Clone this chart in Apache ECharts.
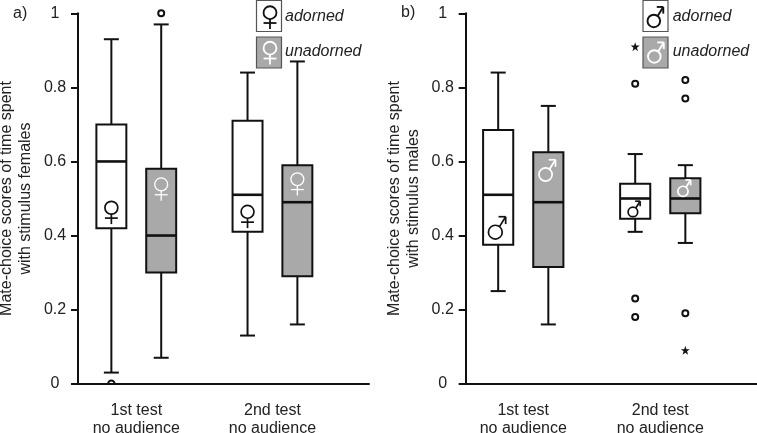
<!DOCTYPE html>
<html><head><meta charset="utf-8">
<style>html,body{margin:0;padding:0;background:#fff}#c{width:757px;height:433px}</style>
<script src="https://cdn.jsdelivr.net/npm/echarts@6/dist/echarts.min.js"></script>
</head><body><div id="c"></div>
<script>
// ---- data ----
const categories = ['1st test\nno audience', '2nd test\nno audience'];
const yTicks = [0, 0.2, 0.4, 0.6, 0.8, 1];
// [low whisker, Q1, median, Q3, high whisker], one row per test
const femalesAdorned   = [[0.03, 0.42, 0.60, 0.70, 0.93], [0.13, 0.41, 0.51, 0.71, 0.84]];
const femalesUnadorned = [[0.07, 0.30, 0.40, 0.58, 0.97], [0.16, 0.29, 0.49, 0.59, 0.87]];
const malesAdorned     = [[0.25, 0.375, 0.51, 0.685, 0.84], [0.41, 0.445, 0.50, 0.54, 0.62]];
const malesUnadorned   = [[0.16, 0.315, 0.49, 0.625, 0.75], [0.38, 0.46, 0.50, 0.555, 0.59]];
// outliers: per test
const femalesAdornedOutliersOnAxis = [[0], []];
const femalesUnadornedOutliers = [[1.0], []];
const malesAdornedOutliers = [[], [0.81, 0.23, 0.18]];
const malesUnadornedOutliers = [[], [0.82, 0.77, 0.19]];
const malesAdornedExtreme = [[], [0.91]];
const malesUnadornedExtreme = [[], [0.09]];
// height at which the sex symbol sits in each box
const femalesAdornedSymbol = [0.462, 0.451];
const femalesUnadornedSymbol = [0.525, 0.539];
const malesAdornedSymbol = [0.421, 0.472];
const malesUnadornedSymbol = [0.576, 0.528];

const INK = '#111', GREY = '#a9a9a9', TEXT = '#222';
const FONT = '"Liberation Sans", Arial, sans-serif';
const OFFSET = 0.183, BOX_W = 0.22, CAP_W = 0.11;

function sexMark(kind, cx, cy, s, color, lw) {
  const stroke = { stroke: color, lineWidth: lw, fill: null };
  const line = (x1, y1, x2, y2) => ({ type: 'line',
    shape: { x1: cx + x1 * s, y1: cy + y1 * s, x2: cx + x2 * s, y2: cy + y2 * s }, style: stroke });
  const ring = (x, y, r) => ({ type: 'circle',
    shape: { cx: cx + x * s, cy: cy + y * s, r: r * s }, style: { ...stroke, fill: 'transparent' } });
  if (kind === 'female') {
    return { type: 'group', children: [
      ring(0, -0.21, 0.28), line(0, 0.07, 0, 0.5), line(-0.28, 0.24, 0.28, 0.24)
    ]};
  }
  return { type: 'group', children: [
    ring(-0.08, 0.19, 0.3), line(0.1, -0.05, 0.37, -0.48),
    line(0.06, -0.48, 0.37, -0.48), line(0.37, -0.48, 0.37, -0.16)
  ]};
}
function boxRows(rows, side) {
  return rows.map((r, i) => [i + side * OFFSET].concat(r));
}
function boxSeries(name, rows, side, fill, gridIndex) {
  return {
    name, type: 'custom', xAxisIndex: gridIndex, yAxisIndex: gridIndex, clip: false, z: 3,
    data: boxRows(rows, side),
    encode: { x: 0, y: [1, 2, 3, 4, 5] },
    renderItem(params, api) {
      const x = api.value(0);
      const px = v => api.coord([x, v]);
      const bw = api.size([BOX_W, 0])[0], cw = api.size([CAP_W, 0])[0];
      const [lo, q1, med, q3, hi] = [1, 2, 3, 4, 5].map(k => px(api.value(k)));
      const line = (x1, y1, x2, y2, w) => ({
        type: 'line', shape: { x1, y1, x2, y2 }, style: { stroke: INK, lineWidth: w }
      });
      return { type: 'group', children: [
        line(lo[0], lo[1], lo[0], q1[1], 2),
        line(hi[0], hi[1], hi[0], q3[1], 2),
        line(lo[0] - cw / 2, lo[1], lo[0] + cw / 2, lo[1], 2),
        line(hi[0] - cw / 2, hi[1], hi[0] + cw / 2, hi[1], 2),
        { type: 'rect', shape: { x: q3[0] - bw / 2, y: q3[1], width: bw, height: q1[1] - q3[1] },
          style: { fill, stroke: INK, lineWidth: 2 } },
        line(med[0] - bw / 2, med[1], med[0] + bw / 2, med[1], 2.6)
      ]};
    }
  };
}
function flat(outliers, side) {
  const out = [];
  outliers.forEach((vals, i) => vals.forEach(v => out.push([i + side * OFFSET, v])));
  return out;
}
function ringSeries(outliers, side, gridIndex) {
  return { type: 'scatter', xAxisIndex: gridIndex, yAxisIndex: gridIndex, clip: false, z: 4,
    symbol: 'circle', symbolSize: 6,
    itemStyle: { color: '#fff', borderColor: INK, borderWidth: 2, opacity: 1 },
    data: flat(outliers, side) };
}
// an outlier sitting on the axis: only its upper half shows above the line
function axisRingSeries(outliers, side, gridIndex) {
  return { type: 'custom', xAxisIndex: gridIndex, yAxisIndex: gridIndex, clip: false, z: 4,
    data: flat(outliers, side),
    encode: { x: 0, y: 1 },
    renderItem(params, api) {
      const p = api.coord([api.value(0), api.value(1)]);
      return { type: 'arc', shape: { cx: p[0], cy: p[1], r: 3.2, startAngle: Math.PI, endAngle: 2 * Math.PI },
        style: { stroke: INK, lineWidth: 2, fill: null } };
    }
  };
}
function starSeries(outliers, side, gridIndex) {
  return { type: 'scatter', xAxisIndex: gridIndex, yAxisIndex: gridIndex, clip: false, z: 4,
    symbol: 'path://M50 0 L62 36 L100 36 L69 58 L81 95 L50 72 L19 95 L31 58 L0 36 L38 36 Z', symbolSize: 9,
    itemStyle: { color: INK, opacity: 1 },
    data: flat(outliers, side) };
}
function markSeries(heights, side, kind, sizes, color, gridIndex, lw) {
  return { type: 'custom', xAxisIndex: gridIndex, yAxisIndex: gridIndex, clip: false, z: 5,
    data: heights.map((v, i) => [i + side * OFFSET, v, sizes[i]]),
    encode: { x: 0, y: 1 },
    renderItem(params, api) {
      const p = api.coord([api.value(0), api.value(1)]);
      return sexMark(kind, p[0] - (kind === 'male' ? 1 : 0), p[1], api.value(2), color, lw);
    }
  };
}
function xAxis(gridIndex, min, max) {
  return { type: 'value', gridIndex, min, max, splitLine: { show: false },
    axisLine: { onZero: false, lineStyle: { color: INK, width: 2 } },
    axisTick: { show: false },
    axisLabel: { customValues: [0, 1], formatter: v => categories[v], color: TEXT,
      fontFamily: FONT, fontSize: 16, lineHeight: 18, margin: 18, hideOverlap: false } };
}
function yAxis(gridIndex, name, gap) {
  return { type: 'value', gridIndex, min: 0, max: 1, interval: 0.2,
    splitLine: { show: false },
    axisLine: { show: true, onZero: false, lineStyle: { color: INK, width: 2 } },
    axisTick: { show: true, length: 7, lineStyle: { color: INK, width: 2 } },
    axisLabel: { formatter: v => yTicks.includes(+v.toFixed(1)) ? String(+v.toFixed(1)) : '',
      color: TEXT, fontFamily: FONT, fontSize: 16, margin: 23, align: 'center' },
    name, nameLocation: 'middle', nameRotate: 90, nameGap: gap,
    nameTextStyle: { color: TEXT, fontFamily: FONT, fontSize: 16, lineHeight: 19 } };
}
function legendBox(x, y, fill, kind, color, markDx, markDy, s) {
  return [
    { type: 'rect', shape: { x, y, width: 25, height: 31 },
      style: { fill, stroke: '#555', lineWidth: 1.2 } },
    sexMark(kind, x + 12.5 + markDx, y + 15.5 + markDy, s, color, kind === 'male' ? 1.9 : 1.8)
  ];
}
function caption(x, y, text, italic) {
  return { type: 'text', x, y, style: { text, fill: TEXT, align: 'left', verticalAlign: 'middle',
    font: (italic ? 'italic ' : '') + '16px ' + FONT } };
}

const chart = echarts.init(document.getElementById('c'));
chart.setOption({
  animation: false,
  backgroundColor: '#fff',
  grid: [
    { left: 78, top: 13.3, width: 291, height: 370.4, outerBoundsMode: 'none' },
    { left: 465.7, top: 13.3, width: 291.3, height: 370.4, outerBoundsMode: 'none' }
  ],
  xAxis: [xAxis(0, -0.428, 1.709), xAxis(1, -0.42, 1.706)],
  yAxis: [
    yAxis(0, 'Mate-choice scores of time spent\nwith stimulus females', 43),
    yAxis(1, 'Mate-choice scores of time spent\nwith stimulus males', 42.5)
  ],
  series: [
    boxSeries('adorned', femalesAdorned, -1, '#fff', 0),
    boxSeries('unadorned', femalesUnadorned, 1, GREY, 0),
    boxSeries('adorned', malesAdorned, -1, '#fff', 1),
    boxSeries('unadorned', malesUnadorned, 1, GREY, 1),
    axisRingSeries(femalesAdornedOutliersOnAxis, -1, 0),
    ringSeries(femalesUnadornedOutliers, 1, 0),
    ringSeries(malesAdornedOutliers, -1, 1),
    ringSeries(malesUnadornedOutliers, 1, 1),
    starSeries(malesAdornedExtreme, -1, 1),
    starSeries(malesUnadornedExtreme, 1, 1),
    markSeries(femalesAdornedSymbol, -1, 'female', [23, 23], INK, 0, 1.7),
    markSeries(femalesUnadornedSymbol, 1, 'female', [23, 23], '#fff', 0, 1.3),
    markSeries(malesAdornedSymbol, -1, 'male', [23, 16], INK, 1, 1.7),
    markSeries(malesUnadornedSymbol, 1, 'male', [22, 17], '#fff', 1, 1.7)
  ],
  graphic: [
    ...legendBox(256.5, 0.5, '#fff', 'female', INK, 1, 1.5, 23),
    ...legendBox(256.5, 37, GREY, 'female', '#fff', 1, 0.5, 23),
    ...legendBox(643, 0.5, '#fff', 'male', INK, 0, 1, 21),
    ...legendBox(643, 37, GREY, 'male', '#fff', 0.5, 0, 21),
    caption(285, 17, 'adorned', true),
    caption(285, 52, 'unadorned', true),
    caption(672.7, 17, 'adorned', true),
    caption(672.7, 52, 'unadorned', true),
    caption(13, 14, 'a)', false),
    caption(401, 13, 'b)', false)
  ]
});
</script></body></html>
